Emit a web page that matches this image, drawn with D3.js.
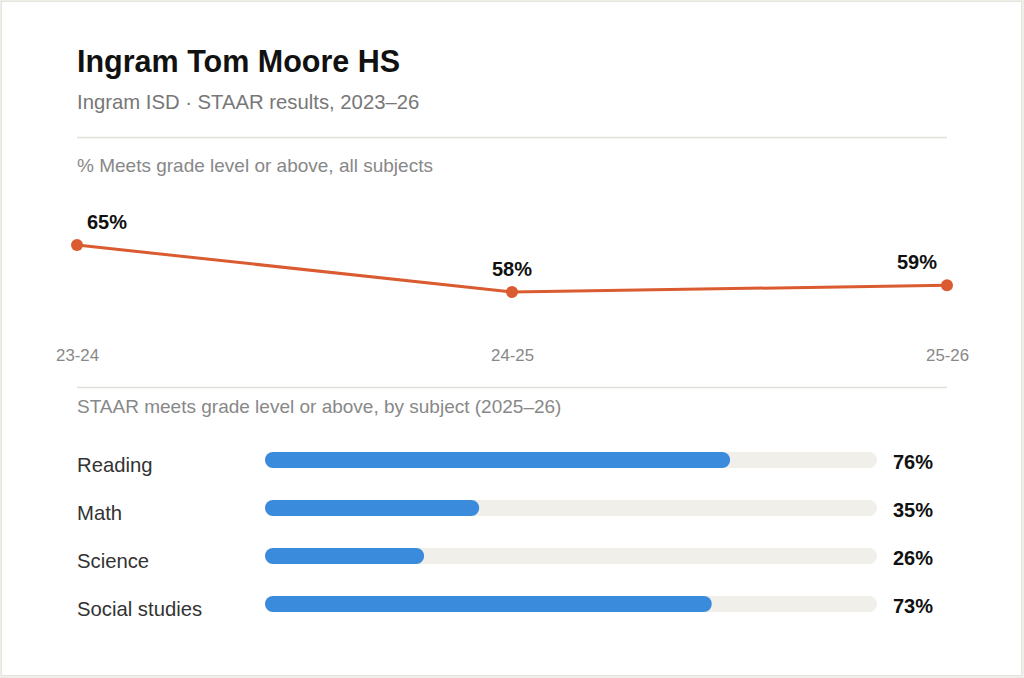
<!DOCTYPE html>
<html>
<head>
<meta charset="utf-8">
<script src="https://cdn.jsdelivr.net/npm/d3@7"></script>
<style>
  html, body { margin: 0; padding: 0; background: #efeee8; }
  body { width: 1024px; height: 678px; overflow: hidden; font-family: "Liberation Sans", Arial, Helvetica, sans-serif; }
  #card { position: absolute; left: 1px; top: 1px; width: 1019px; height: 673px; background: #fff; border: 1px solid #e4e3dc; }
  svg { position: absolute; left: -2px; top: -2px; }
</style>
</head>
<body>
<div id="card"></div>
<script>
// line chart data
const years = ["23-24", "24-25", "25-26"];
const meetsAll = [65, 58, 59];

// bar chart data
const subjects = ["Reading", "Math", "Science", "Social studies"];
const meetsBySubject = [76, 35, 26, 73];

const titleText = "Ingram Tom Moore HS";
const subtitleText = "Ingram ISD \u00b7 STAAR results, 2023\u201326";
const lineTitle = "% Meets grade level or above, all subjects";
const barTitle = "STAAR meets grade level or above, by subject (2025\u201326)";

const W = 1024, H = 678;
const left = 77, right = 947;
const lineColor = "#d95b2f", barColor = "#3a8bdb", trackColor = "#f0efea";

const svg = d3.select("#card").append("svg")
    .attr("width", W)
    .attr("height", H);

// header
svg.append("text")
    .attr("x", left).attr("y", 72)
    .attr("font-size", 30.5).attr("font-weight", "bold").attr("fill", "#111")
    .text(titleText);

svg.append("text")
    .attr("x", left).attr("y", 108.5)
    .attr("font-size", 20.3).attr("fill", "#777")
    .text(subtitleText);

svg.append("line")
    .attr("x1", left).attr("x2", right)
    .attr("y1", 137.5).attr("y2", 137.5)
    .attr("stroke", "#e0dfda").attr("stroke-width", 1.5);

svg.append("text")
    .attr("x", left).attr("y", 172)
    .attr("font-size", 19).attr("fill", "#888")
    .text(lineTitle);

// ---------- line chart ----------
const x = d3.scalePoint()
    .domain(years)
    .range([left, right]);

const y = d3.scaleLinear()
    .domain([58, 65])
    .range([292, 245]);

const lineData = years.map((yr, i) => ({ year: yr, value: meetsAll[i] }));

svg.append("path")
    .datum(lineData)
    .attr("fill", "none")
    .attr("stroke", lineColor)
    .attr("stroke-width", 3)
    .attr("d", d3.line().x(d => x(d.year)).y(d => y(d.value)));

svg.append("g")
    .selectAll("circle")
    .data(lineData)
    .join("circle")
    .attr("cx", d => x(d.year))
    .attr("cy", d => y(d.value))
    .attr("r", 6)
    .attr("fill", lineColor);

svg.append("g")
    .selectAll("text")
    .data(lineData)
    .join("text")
    .attr("x", (d, i) => x(d.year) + (i === 0 ? 10 : i === lineData.length - 1 ? -10 : 0))
    .attr("y", d => y(d.value) - 16)
    .attr("text-anchor", (d, i) => i === 0 ? "start" : i === lineData.length - 1 ? "end" : "middle")
    .attr("font-size", 20).attr("font-weight", "bold").attr("fill", "#111")
    .text(d => d.value + "%");

// x axis labels
const xAxis = svg.append("g")
    .attr("transform", "translate(0,361)")
    .call(d3.axisBottom(x).tickSize(0).tickPadding(0));
xAxis.select(".domain").remove();
xAxis.selectAll("text")
    .attr("y", 0)
    .attr("dy", null)
    .attr("font-family", "\"Liberation Sans\", Arial, sans-serif")
    .attr("font-size", 16.8)
    .attr("fill", "#888");

svg.append("line")
    .attr("x1", left).attr("x2", right)
    .attr("y1", 387.5).attr("y2", 387.5)
    .attr("stroke", "#e0dfda").attr("stroke-width", 1.5);

svg.append("text")
    .attr("x", left).attr("y", 413)
    .attr("font-size", 19).attr("fill", "#888")
    .text(barTitle);

// ---------- bar chart ----------
const barX = d3.scaleLinear()
    .domain([0, 100])
    .range([265, 877]);

const barY = d3.scaleBand()
    .domain(subjects)
    .range([436, 628])
    .paddingInner(0)
    .paddingOuter(0);

const barH = 16;
const barData = subjects.map((s, i) => ({ subject: s, value: meetsBySubject[i] }));

const rows = svg.append("g")
    .selectAll("g")
    .data(barData)
    .join("g")
    .attr("transform", d => `translate(0,${barY(d.subject) + barY.bandwidth() / 2})`);

rows.append("rect")
    .attr("x", barX(0))
    .attr("y", -barH / 2)
    .attr("width", barX(100) - barX(0))
    .attr("height", barH)
    .attr("rx", barH / 2)
    .attr("fill", trackColor);

rows.append("rect")
    .attr("x", barX(0))
    .attr("y", -barH / 2)
    .attr("width", d => barX(d.value) - barX(0))
    .attr("height", barH)
    .attr("rx", barH / 2)
    .attr("fill", barColor);

rows.append("text")
    .attr("x", left)
    .attr("y", 11.5)
    .attr("font-size", 20.3).attr("fill", "#333")
    .text(d => d.subject);

rows.append("text")
    .attr("x", 893)
    .attr("y", 9.3)
    .attr("font-size", 20).attr("font-weight", "bold").attr("fill", "#111")
    .text(d => d.value + "%");
</script>
</body>
</html>
